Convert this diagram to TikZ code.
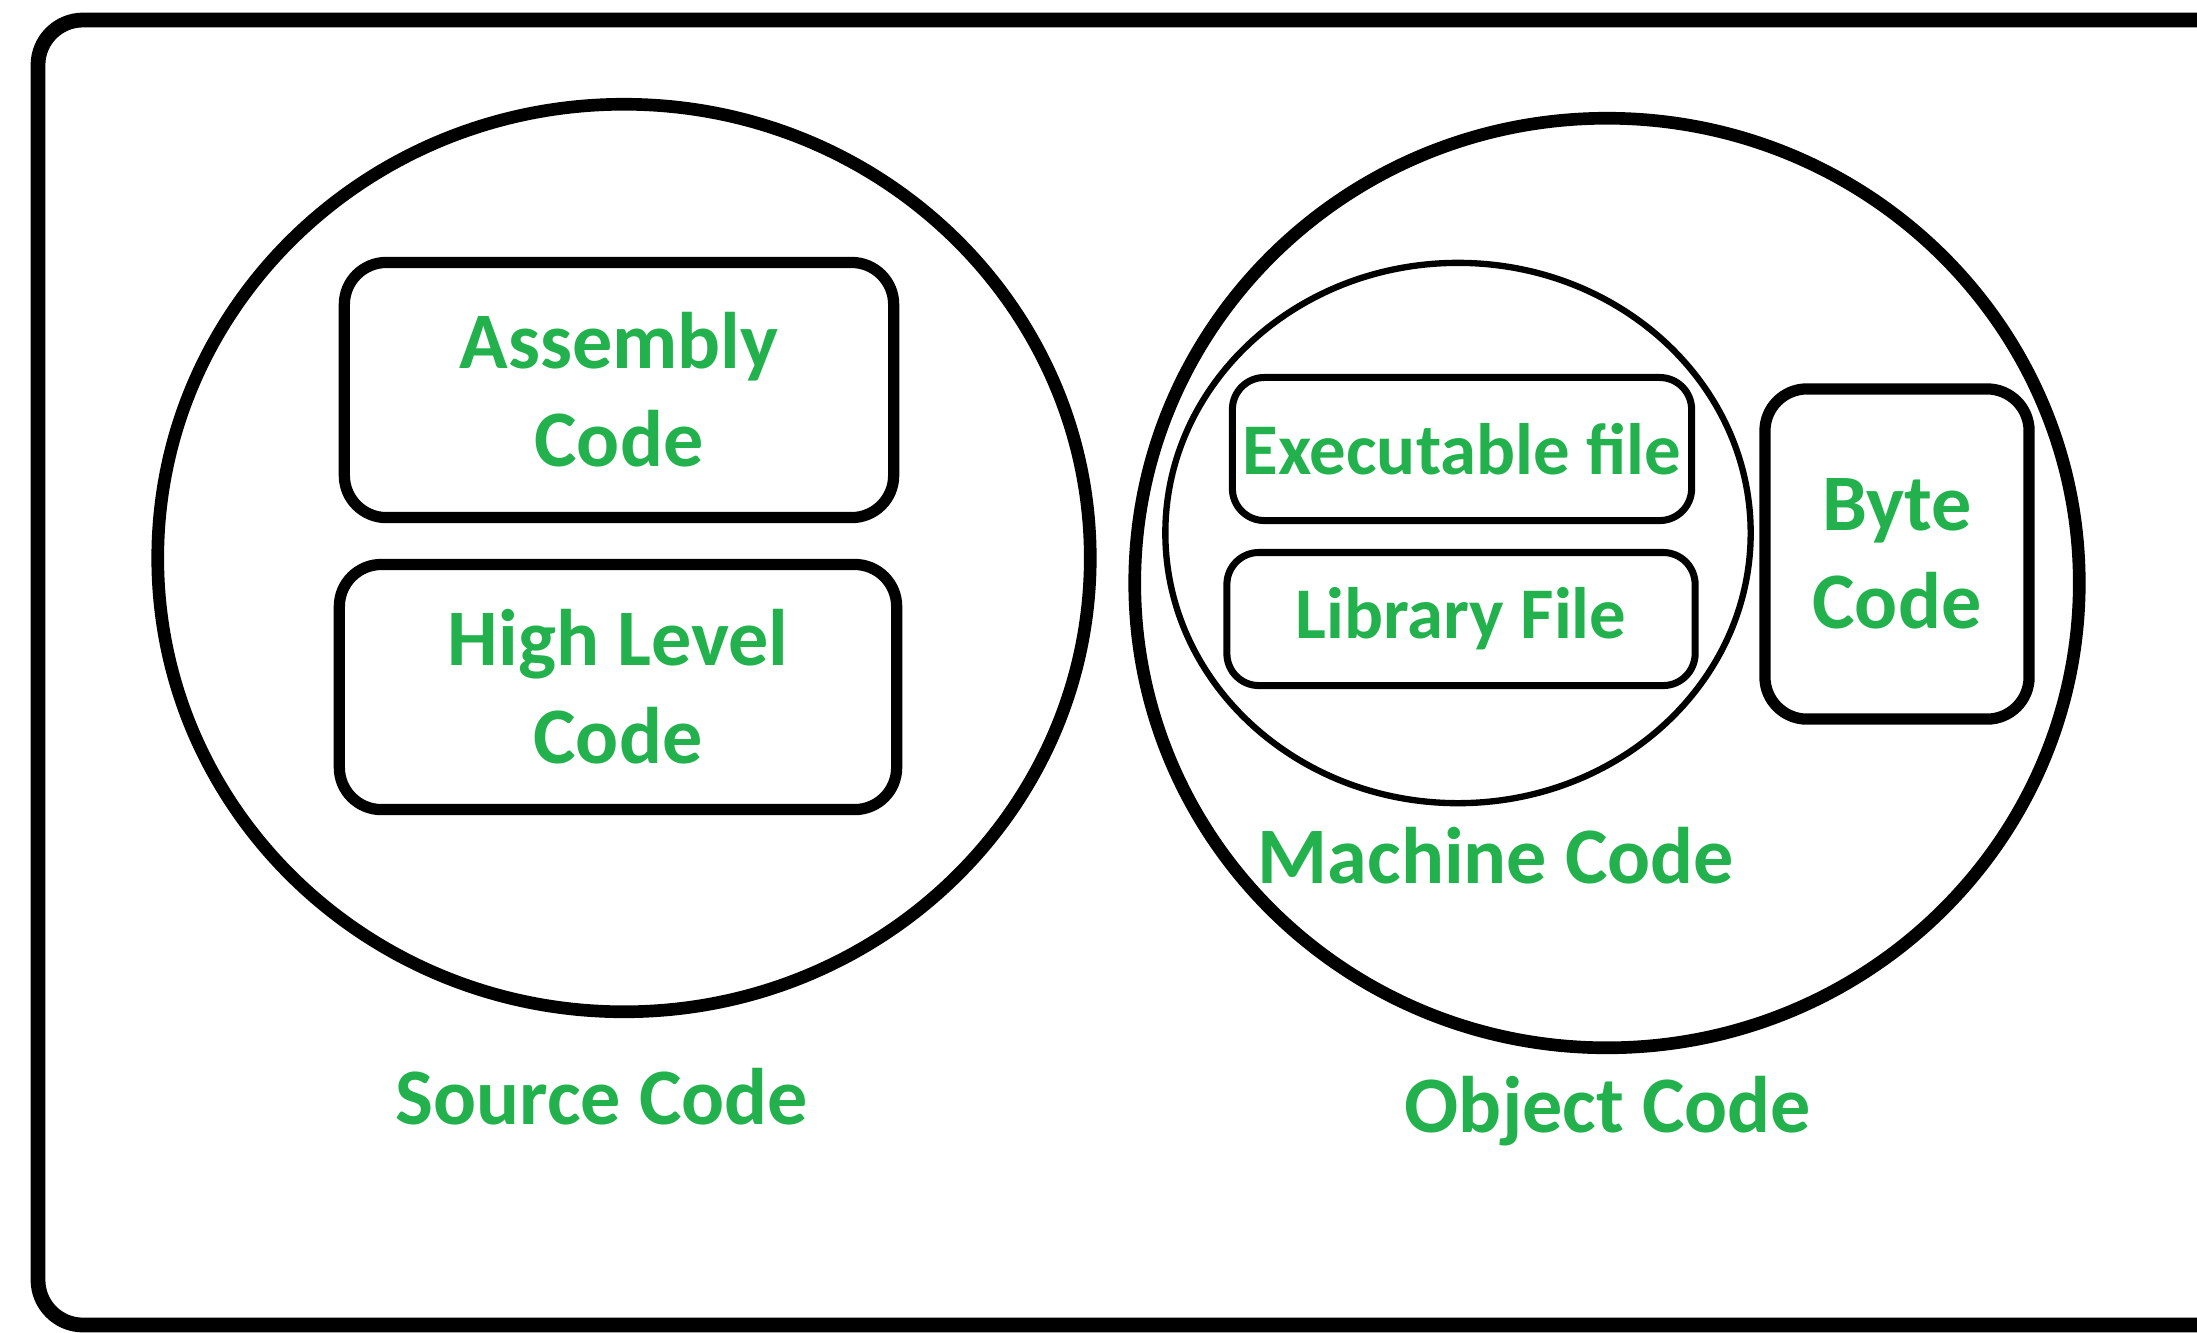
\documentclass[tikz,border=0pt]{standalone}
\usepackage{fontspec}
\setmainfont{Carlito}
\usetikzlibrary{shapes.geometric}
\definecolor{paintgreen}{HTML}{22B14C}
\tikzset{
  blob/.style={draw, ellipse, line width=3.6pt, inner sep=0pt},
  codebox/.style={draw, rounded corners=0.42cm, line width=3.2pt, inner sep=0pt, text=paintgreen, font=\bfseries\fontsize{22.8}{27.9}\selectfont, align=center},
  filebox/.style={draw, rounded corners=0.32cm, line width=2pt, inner sep=0pt, text=paintgreen, font=\bfseries\fontsize{20.7}{25}\selectfont},
  lbl/.style={text=paintgreen, font=\bfseries\fontsize{22.8}{27.9}\selectfont, inner sep=0pt, text depth=0pt}
}
\begin{document}
\begin{tikzpicture}[x=0.01cm, y=-0.01cm]
  \useasboundingbox (0,0) rectangle (2197,1332);
  \clip (0,0) rectangle (2197,1332);
  \draw[line width=4.2pt, rounded corners=0.45cm] (38,20) rectangle (2260,1325);

  \node[blob, minimum width=9.32cm, minimum height=9.07cm] (source) at (624,558) {};
  \node[blob, minimum width=9.44cm, minimum height=9.29cm] (object) at (1607,583) {};
  \node[blob, line width=1.8pt, minimum width=5.85cm, minimum height=5.4cm] (machine) at (1458,533) {};

  \node[codebox, minimum width=5.49cm, minimum height=2.55cm] (assembly) at (619,390) {Assembly\\Code};
  \node[codebox, minimum width=5.57cm, minimum height=2.45cm] (highlevel) at (618,687) {High Level\\Code};
  \node[codebox, minimum width=2.64cm, minimum height=3.3cm] (byte) at (1897,554) {Byte\\Code};
  \node[filebox, minimum width=4.59cm, minimum height=1.43cm] (exec) at (1462,449) {Executable file};
  \node[filebox, minimum width=4.68cm, minimum height=1.33cm] (library) at (1461,619) {Library File};

  \node[lbl] (machinelbl) at (1496,855) {Machine Code};
  \node[lbl] (sourcelbl) at (602,1096) {Source Code};
  \node[lbl] (objectlbl) at (1608,1104) {Object Code};
\end{tikzpicture}
\end{document}
